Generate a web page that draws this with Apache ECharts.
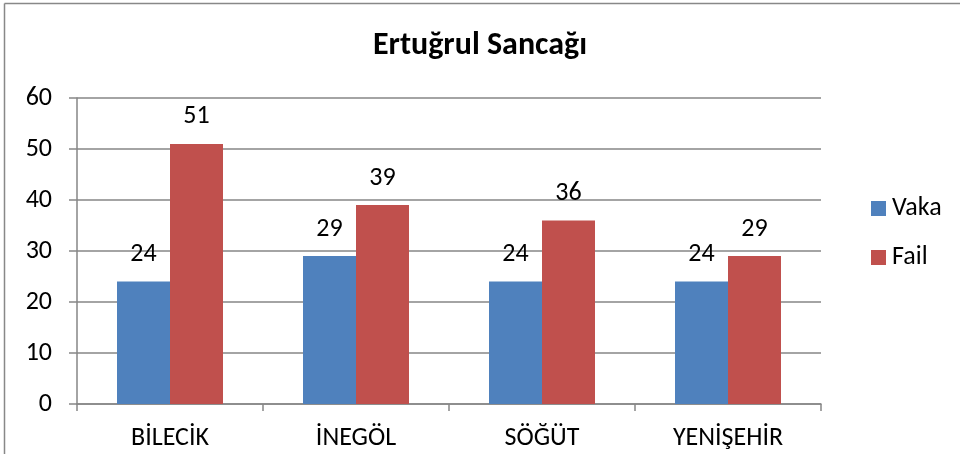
<!DOCTYPE html>
<html><head><meta charset="utf-8">
<script src="https://cdn.jsdelivr.net/npm/echarts@6/dist/echarts.min.js"></script>
<style>html,body{margin:0;padding:0;background:#fff}#c{width:960px;height:454px}</style>
</head><body><div id="c"></div>
<script>
const categories = ['BİLECİK', 'İNEGÖL', 'SÖĞÜT', 'YENİŞEHİR'];
const vaka = [24, 29, 24, 24];
const fail = [51, 39, 36, 29];
const yTicks = [0, 10, 20, 30, 40, 50, 60];

const font = 'Carlito, "Open Sans", "Liberation Sans", sans-serif';
const chart = echarts.init(document.getElementById('c'));
const labelStyle = {show: true, position: 'top', distance: 14, color: '#000', fontSize: 26, fontFamily: font};
chart.setOption({
  animation: false,
  title: {text: 'Ertuğrul Sancağı', left: 475, top: 25, textAlign: 'center',
    textStyle: {fontSize: 32, fontWeight: 'bold', color: '#000', fontFamily: font, lineHeight: 32}},
  grid: {left: 77, right: 139, top: 98, bottom: 50, containLabel: false},
  legend: {orient: 'vertical', left: 866, top: 190, itemWidth: 15, itemHeight: 15, itemGap: 22,
    icon: 'rect', textStyle: {fontSize: 26, lineHeight: 27, color: '#000', fontFamily: font, padding: [0,0,0,1]},
    data: ['Vaka', 'Fail']},
  xAxis: {type: 'category', data: categories,
    axisLine: {lineStyle: {color: '#868686', width: 1.5}},
    axisTick: {show: true, length: 7, lineStyle: {color: '#868686', width: 1.5}},
    axisLabel: {fontSize: 26, color: '#000', fontFamily: font, margin: 21}},
  yAxis: {type: 'value', min: 0, max: 60, interval: 10,
    axisLine: {show: true, lineStyle: {color: '#868686', width: 1.5}},
    axisTick: {show: true, length: 8, lineStyle: {color: '#868686', width: 1.5}},
    splitLine: {lineStyle: {color: '#868686', width: 1.5}},
    axisLabel: {fontSize: 26, color: '#000', fontFamily: font, margin: 25,
      formatter: v => yTicks.includes(v) ? String(v) : ''}},
  series: [
    {name: 'Vaka', type: 'bar', data: vaka, barWidth: 53, barGap: '0%',
      itemStyle: {color: '#4F81BD'}, label: labelStyle},
    {name: 'Fail', type: 'bar', data: fail, barWidth: 53, barGap: '0%',
      itemStyle: {color: '#C0504D'}, label: labelStyle}
  ],
  graphic: [
    {type: 'line', shape: {x1: 4.5, y1: 3.5, x2: 960, y2: 3.5}, style: {stroke: '#888', lineWidth: 1.5}},
    {type: 'line', shape: {x1: 4.5, y1: 3.5, x2: 4.5, y2: 454}, style: {stroke: '#888', lineWidth: 1.5}}
  ]
});
</script></body></html>
